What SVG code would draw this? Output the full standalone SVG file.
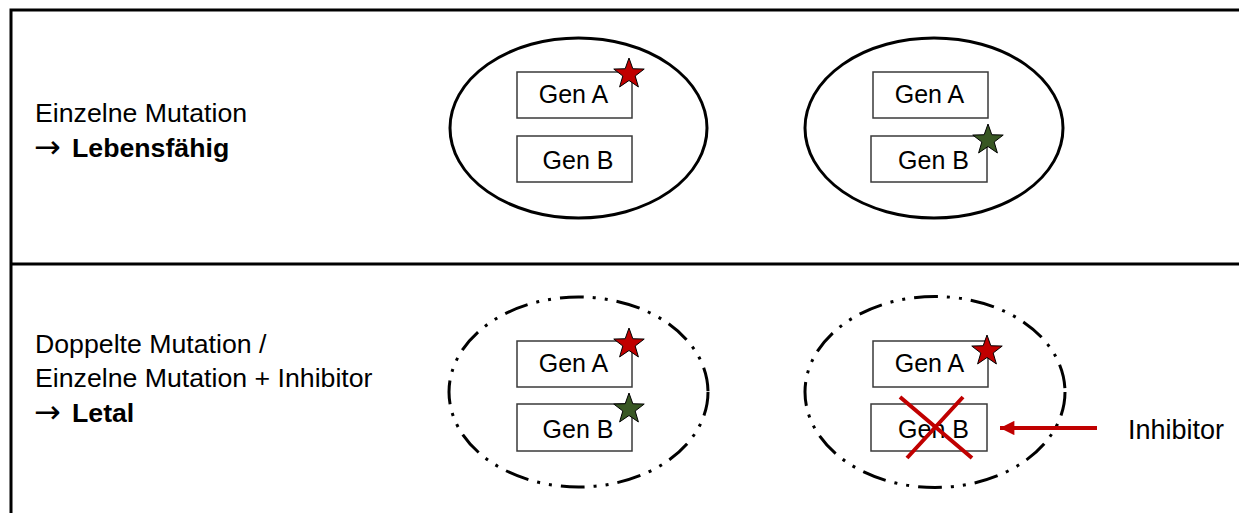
<svg xmlns="http://www.w3.org/2000/svg" width="1239" height="513" viewBox="0 0 1239 513">
<style>
.frame{stroke:#000;stroke-width:3;fill:none}
.cell{fill:none;stroke:#000;stroke-width:3}
.dashed{stroke-dasharray:24 9 3 9 3 9}
.gene{fill:#fff;stroke:#3a3a3a;stroke-width:1.5}
.t{font-family:"Liberation Sans",Arial,sans-serif;font-size:26.7px;fill:#000}
.arr{font-family:"DejaVu Sans",sans-serif;font-size:32px}
.gt{font-family:"Liberation Sans",Arial,sans-serif;font-size:25px;fill:#000;text-anchor:middle}
.b{font-weight:bold}
.red{fill:#C00000;stroke:#000;stroke-width:1}
.green{fill:#385723;stroke:#000;stroke-width:1}
.x{stroke:#C00000;stroke-width:4;fill:none}
</style>
<defs>
<polygon id="star" points="0,-16 3.82,-5.26 15.22,-4.94 6.18,2.01 9.4,12.94 0,6.5 -9.4,12.94 -6.18,2.01 -15.22,-4.94 -3.82,-5.26"/>
<marker id="ah" viewBox="0 0 10 10" refX="10" refY="5" markerWidth="4" markerHeight="3.6" markerUnits="strokeWidth" orient="auto">
<path d="M0,0 L10,5 L0,10 z" fill="#C00000"/>
</marker>
</defs>
<rect width="1239" height="513" fill="#fff"/>
<g id="frame">
<path class="frame" d="M11,513 V10 H1239 M11,264 H1239"/>
</g>
<g id="label-top">
<text class="t" x="35" y="122">Einzelne Mutation</text>
<text class="t" y="157"><tspan class="arr" x="34" dy="1">→</tspan><tspan class="b" x="72" dy="-1">Lebensfähig</tspan></text>
</g>
<g id="label-bottom">
<text class="t" x="35" y="353">Doppelte Mutation /</text>
<text class="t" x="35" y="387">Einzelne Mutation + Inhibitor</text>
<text class="t" y="422"><tspan class="arr" x="34" dy="1">→</tspan><tspan class="b" x="72" dy="-1">Letal</tspan></text>
</g>
<g id="cell1">
<ellipse class="cell" cx="578.5" cy="128" rx="128.5" ry="90"/>
<g id="cell1-genA"><rect class="gene" x="517" y="72" width="115" height="46"/><text class="gt" x="573.5" y="103">Gen A</text></g>
<g id="cell1-genB"><rect class="gene" x="517" y="136" width="115" height="46"/><text class="gt" x="578" y="169">Gen B</text></g>
<use href="#star" class="red" x="629" y="74"/>
</g>
<g id="cell2">
<ellipse class="cell" cx="934" cy="128" rx="129" ry="90"/>
<g id="cell2-genA"><rect class="gene" x="873" y="72" width="115" height="46"/><text class="gt" x="929.5" y="103">Gen A</text></g>
<g id="cell2-genB"><rect class="gene" x="871" y="136" width="116" height="46"/><text class="gt" x="933.5" y="169">Gen B</text></g>
<use href="#star" class="green" x="988" y="140"/>
</g>
<g id="cell3">
<ellipse class="cell dashed" cx="578.5" cy="392" rx="129.5" ry="95"/>
<g id="cell3-genA"><rect class="gene" x="517" y="341" width="115" height="46"/><text class="gt" x="573.5" y="372">Gen A</text></g>
<g id="cell3-genB"><rect class="gene" x="517" y="404" width="115" height="47"/><text class="gt" x="578" y="438">Gen B</text></g>
<use href="#star" class="red" x="629" y="344"/>
<use href="#star" class="green" x="629" y="409"/>
</g>
<g id="cell4">
<ellipse class="cell dashed" cx="935" cy="392" rx="130" ry="95.5"/>
<g id="cell4-genA"><rect class="gene" x="873" y="341" width="115" height="46"/><text class="gt" x="929.5" y="372">Gen A</text></g>
<g id="cell4-genB"><rect class="gene" x="871" y="404" width="116" height="47"/><text class="gt" x="933.5" y="438">Gen B</text></g>
<use href="#star" class="red" x="987" y="351"/>
<path class="x" d="M900,397 L972,458 M963,397 L907,458"/>
</g>
<g id="inhibitor">
<text class="t" x="1128" y="439" style="font-size:27px">Inhibitor</text>
</g>
<g id="connectors">
<line x1="1097" y1="428" x2="1000" y2="428" stroke="#C00000" stroke-width="4" marker-end="url(#ah)"/>
</g>
</svg>
